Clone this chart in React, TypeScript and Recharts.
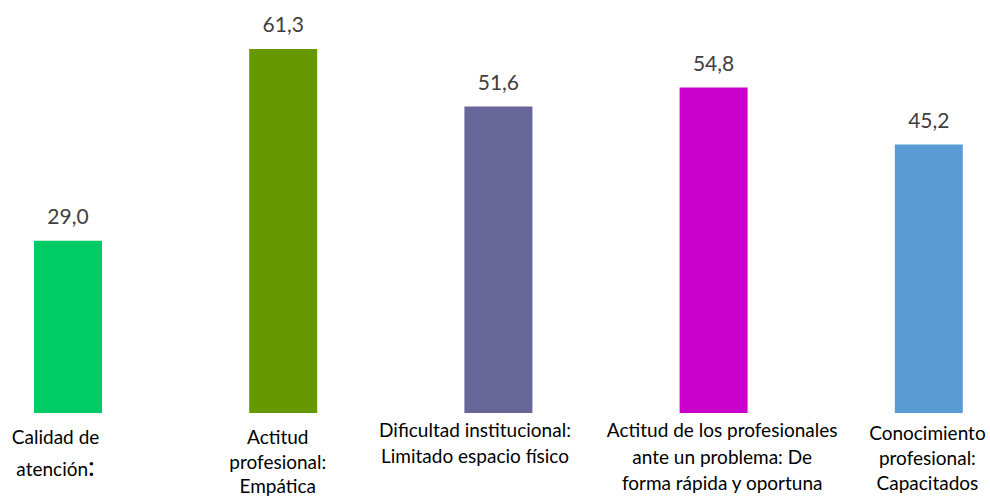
import { Bar, BarChart, Cell, LabelList, XAxis, YAxis } from "recharts";

const CATEGORIES = [
	"Calidad de\natención:",
	"Actitud\nprofesional:\nEmpática",
	"Dificultad institucional:\nLimitado espacio físico",
	"Actitud de los profesionales\nante un problema: De\nforma rápida y oportuna",
	"Conocimiento\nprofesional:\nCapacitados",
];
const VALUES = [29.0, 61.3, 51.6, 54.8, 45.2];
const BAR_COLORS = ["#00CC66", "#669900", "#666699", "#CC00CC", "#5B9BD5"];

const data = CATEGORIES.map((name, i) => ({ name, value: VALUES[i] }));

// the text boxes under the bars are not all centred on their bar
const LABEL_DX = [-12, -5, -23, 9, -1];
const LABEL_FIRST_DY = [31, 31, 24, 24, 27];
const LABEL_LINE_H = [32, 24.5, 26, 26.5, 25];

const FONT = "Lato, 'Open Sans', sans-serif";

function CategoryTick(props: any) {
	const { x, y, payload, index } = props;
	const lines = String(payload.value).split("\n");
	const cx = x + LABEL_DX[index];
	return (
		<text x={cx} y={y} textAnchor="middle" fill="#000" fontSize={19} fontFamily={FONT}>
			{lines.map((line, i) => {
				const dy = i === 0 ? LABEL_FIRST_DY[index] : LABEL_LINE_H[index];
				// the trailing colon on the first label is set in a bigger font
				if (index === 0 && line.endsWith(":")) {
					return (
						<tspan key={i} x={cx} dy={dy}>
							{line.slice(0, -1)}
							<tspan fontSize={27}>:</tspan>
						</tspan>
					);
				}
				return (
					<tspan key={i} x={cx} dy={dy}>
						{line}
					</tspan>
				);
			})}
		</text>
	);
}

export default function App() {
	return (
		<div
			style={{
				position: "absolute",
				left: 0,
				top: 0,
				width: 990,
				height: 497,
				overflow: "hidden",
				background: "#fff",
			}}
		>
			<div style={{ position: "absolute", left: -40, top: 0 }}>
				<BarChart
					width={1076}
					height={497}
					data={data}
					margin={{ top: 27, right: 0, bottom: 0, left: 0 }}
					style={{ fontFamily: FONT }}
				>
					<XAxis
						dataKey="name"
						axisLine={false}
						tickLine={false}
						tickSize={0}
						tickMargin={0}
						height={84}
						interval={0}
						tick={<CategoryTick />}
					/>
					<YAxis hide domain={[0, 65]} />
					<Bar dataKey="value" barSize={68} isAnimationActive={false}>
						{data.map((_, i) => (
							<Cell key={i} fill={BAR_COLORS[i]} />
						))}
						<LabelList
							dataKey="value"
							position="top"
							offset={17}
							fill="#404040"
							fontSize={21}
							fontFamily={FONT}
							formatter={(v: any) => Number(v).toFixed(1).replace(".", ",")}
						/>
					</Bar>
				</BarChart>
			</div>
		</div>
	);
}
